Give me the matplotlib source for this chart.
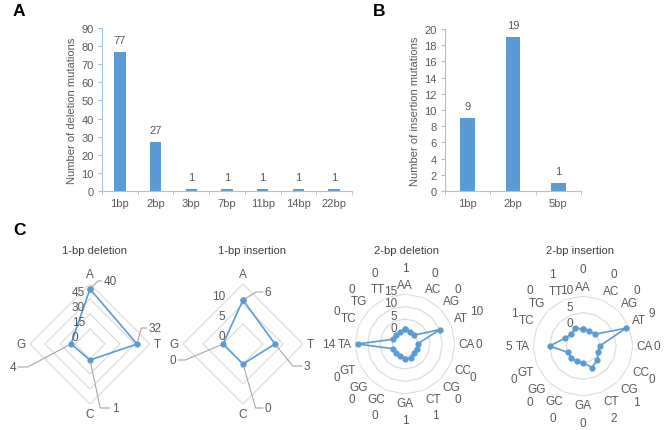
import numpy as np
import matplotlib.pyplot as plt

plt.rcParams['font.family'] = ['Liberation Sans', 'DejaVu Sans']

# panel A / B : indel size counts
del_sizes = ['1bp', '2bp', '3bp', '7bp', '11bp', '14bp', '22bp']
del_counts = [77, 27, 1, 1, 1, 1, 1]
ins_sizes = ['1bp', '2bp', '5bp']
ins_counts = [9, 19, 1]

# panel C : sequence context of the indels
bases = ['A', 'T', 'C', 'G']
del_1bp = [40, 32, 1, 4]
ins_1bp = [6, 3, 0, 0]
dinucs = ['AA', 'AC', 'AG', 'AT', 'CA', 'CC', 'CG', 'CT',
          'GA', 'GC', 'GG', 'GT', 'TA', 'TC', 'TG', 'TT']
del_2bp = [1, 0, 0, 10, 0, 0, 0, 1, 1, 0, 0, 0, 14, 0, 0, 0]
ins_2bp = [0, 0, 0, 9, 0, 0, 1, 2, 0, 0, 0, 0, 5, 1, 0, 1]

BLUE = '#5B9BD5'
GREY = '#595959'
GRID = '#D9D9D9'
LEADER = '#A6A6A6'
W, H = 672, 431
FS_BAR = 8
FS_RAD = 8.5

fig = plt.figure(figsize=(W / 100, H / 100), dpi=100)


def px_box(left, top, w, h):
    return [left / W, 1 - (top + h) / H, w / W, h / H]


def bar_panel(box, cats, vals, ymax, ystep, ylabel):
    ax = fig.add_axes(px_box(*box))
    x = np.arange(len(cats))
    ax.bar(x, vals, width=0.32, color=BLUE)
    for xi, v in zip(x, vals):
        ax.annotate(str(v), (xi, v), xytext=(0, 9), textcoords='offset pixels',
                    ha='center', va='baseline', fontsize=FS_BAR, color=GREY)
    ax.set_xlim(-0.5, len(cats) - 0.5)
    ax.set_ylim(0, ymax)
    ax.set_yticks(np.arange(0, ymax + 1, ystep))
    ax.set_xticks(x)
    ax.set_xticklabels(cats)
    ax.set_xticks(np.arange(len(cats) + 1) - 0.5, minor=True)
    ax.tick_params(axis='x', which='major', length=0, pad=5, labelsize=FS_BAR, labelcolor=GREY)
    ax.tick_params(axis='x', which='minor', length=3, color='#BFBFBF')
    ax.tick_params(axis='y', length=3, color='#9DC3E6', labelsize=FS_BAR, labelcolor=GREY, pad=3)
    for s in ['top', 'right']:
        ax.spines[s].set_visible(False)
    ax.spines['left'].set_color('#9DC3E6')
    ax.spines['bottom'].set_color('#BFBFBF')
    ax.set_ylabel(ylabel, fontsize=FS_BAR, color=GREY, labelpad=3)
    return ax


def radar(center, R, cats, vals, rmin, rmax, rstep, tick_off, gap=4,
          val_r=None, leaders=None):
    cx, cy = center
    ax = fig.add_axes(px_box(cx - R, cy - R, 2 * R, 2 * R), projection='polar')
    ax.set_theta_zero_location('N')
    ax.set_theta_direction(-1)
    ax.set_ylim(rmin, rmax)
    ax.grid(False)
    ax.set_xticks([])
    ax.set_yticks([])
    ax.spines['polar'].set_visible(False)
    ax.patch.set_alpha(0)

    n = len(cats)
    theta = np.arange(n) * 2 * np.pi / n
    tc = np.append(theta, theta[0])
    rings = np.arange(0, rmax + 0.01, rstep)
    for r in rings:
        ax.plot(tc, [r] * (n + 1), color=GRID, lw=0.8, zorder=1)
    ax.plot(tc, list(vals) + [vals[0]], color=BLUE, lw=1.2, marker='o', ms=3.5,
            zorder=3, clip_on=False)

    # radial tick labels
    dx, dy, ha = tick_off
    for r in rings:
        ax.annotate(f'{r:g}', (0, r), xytext=(dx, dy), textcoords='offset pixels',
                    ha=ha, va='center', fontsize=FS_RAD, color=GREY, annotation_clip=False)

    def corner_text(text, t, dist):
        sx, sy = np.sin(t), np.cos(t)
        ha = 'left' if sx > 0.01 else ('right' if sx < -0.01 else 'center')
        va = 'bottom' if sy > 0.01 else ('top' if sy < -0.01 else 'center')
        ax.annotate(text, (0, rmin), xytext=(dist * sx, dist * sy),
                    textcoords='offset pixels', ha=ha, va=va, fontsize=FS_RAD,
                    color=GREY, annotation_clip=False)

    for c, t in zip(cats, theta):
        corner_text(c, t, R + gap)

    if val_r is not None:
        for v, t in zip(vals, theta):
            corner_text(str(v), t, val_r)

    if leaders is not None:
        for v, t, (ox, oy, angb) in zip(vals, theta, leaders):
            ax.annotate(str(v), (t, v), xytext=(ox, oy), textcoords='offset pixels',
                        ha='center', va='center', fontsize=FS_RAD, color=GREY,
                        annotation_clip=False,
                        bbox=dict(boxstyle='square,pad=0.15', fc='none', ec='none'),
                        arrowprops=dict(arrowstyle='-', color=LEADER, lw=0.8,
                                        shrinkA=0, shrinkB=2,
                                        connectionstyle=f'angle,angleA=0,angleB={angb},rad=0'))
    return ax


bar_panel((102, 29, 250, 163), del_sizes, del_counts, 90, 10, 'Number of deletion mutations')
bar_panel((445, 30, 136, 162), ins_sizes, ins_counts, 20, 2, 'Number of insertion mutations')

# label offsets (px) and leader angle for the 1-bp radars, order A, T, C, G
lead_del = [(20, 8, 45), (18, 16, 75), (25, -48, 102), (-58, -23, 28)]
lead_ins = [(25, 8, 31), (32, -22, -51), (25, -44, 106), (-50, -16, 23)]

radar((90, 345), 60, bases, del_1bp, -15, 45, 15, (-18, -8, 'left'), leaders=lead_del)
radar((243, 345), 60, bases, ins_1bp, -5, 10, 5, (-18, -12, 'right'), leaders=lead_ins)
radar((405, 345), 50, dinucs, del_2bp, -5, 15, 5, (-8, 3, 'right'), gap=3, val_r=70)
radar((583, 347), 50, dinucs, ins_2bp, -5, 10, 5, (-10, 6, 'right'), gap=3, val_r=71)

titles = ['1-bp deletion', '1-bp insertion', '2-bp deletion', '2-bp insertion']
title_x = [95, 252, 407, 580]
for t, x in zip(titles, title_x):
    fig.text(x / W, 1 - 251 / H, t, ha='center', va='center', fontsize=8, color='#404040')

for lab, (x, y) in zip('ABC', [(19, 12), (379, 11), (19, 231)]):
    fig.text(x / W, 1 - y / H, lab, ha='center', va='center', fontsize=12.5,
             fontweight='bold', color='black')

fig.savefig('out.png', dpi=100)
